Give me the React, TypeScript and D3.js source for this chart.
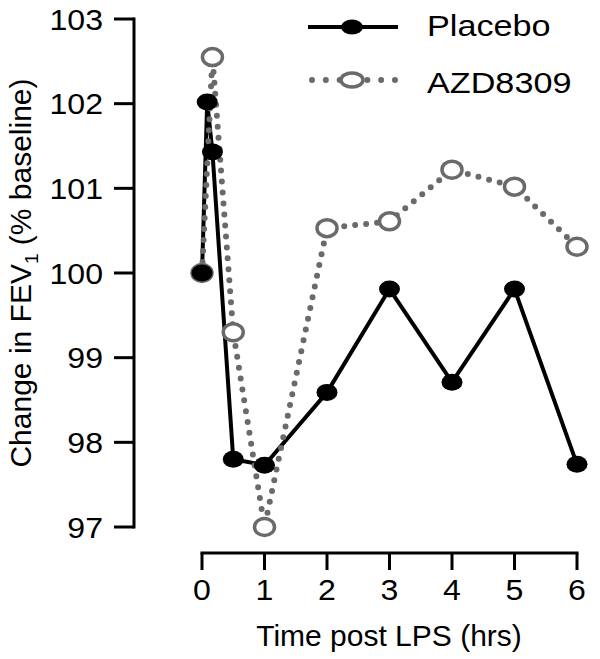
import React from "react";
import * as d3 from "d3";

const placeboTime = [0, 0.083, 0.167, 0.5, 1, 2, 3, 4, 5, 6];
const placeboValue = [100, 102.02, 101.43, 97.8, 97.73, 98.59, 99.81, 98.71, 99.81, 97.74];
const azdTime = [0, 0.167, 0.5, 1, 2, 3, 4, 5, 6];
const azdValue = [100, 102.55, 99.3, 97.0, 100.53, 100.61, 101.22, 101.02, 100.31];
const xTicks = [0, 1, 2, 3, 4, 5, 6];
const yTicks = [97, 98, 99, 100, 101, 102, 103];
const seriesNames = ["Placebo", "AZD8309"];

const W = 600;
const H = 659;
const FONT = "'Liberation Sans', Arial, sans-serif";
const GREY = "#6a6a6a";

export default function App() {
  const x = d3.scaleLinear().domain([0, 6]).range([202, 577]);
  const y = d3.scaleLinear().domain([97, 103]).range([527, 19]);
  const line = d3.line<[number, number]>().x((d) => x(d[0])).y((d) => y(d[1]));
  const placebo: [number, number][] = placeboTime.map((t, i) => [t, placeboValue[i]]);
  const azd: [number, number][] = azdTime.map((t, i) => [t, azdValue[i]]);
  const axisX = 134;
  const axisY = 553;

  return (
    <svg width={W} height={H} style={{ position: "absolute", left: 0, top: 0, background: "#fff" }} fontFamily={FONT}>
      {/* Y axis */}
      <line x1={axisX} x2={axisX} y1={y(103) - 1.5} y2={y(97) + 1.5} stroke="#000" strokeWidth={3} />
      {yTicks.map((t) => (
        <g key={t}>
          <line x1={axisX - 20} x2={axisX} y1={y(t)} y2={y(t)} stroke="#000" strokeWidth={3} />
          <text transform={`translate(103,${y(t) + 10.5}) scale(1.07,1)`} textAnchor="end" fontSize={30}>
            {t}
          </text>
        </g>
      ))}
      {/* X axis */}
      <line x1={x(0) - 1.5} x2={x(6) + 1.5} y1={axisY} y2={axisY} stroke="#000" strokeWidth={3} />
      {xTicks.map((t) => (
        <g key={t}>
          <line x1={x(t)} x2={x(t)} y1={axisY} y2={axisY + 17} stroke="#000" strokeWidth={3} />
          <text transform={`translate(${x(t)},600) scale(1.07,1)`} textAnchor="middle" fontSize={30}>
            {t}
          </text>
        </g>
      ))}
      <text x={389} y={646} textAnchor="middle" fontSize={30}>
        Time post LPS (hrs)
      </text>
      <text transform={`translate(31,${(y(97) + y(103)) / 2}) rotate(-90)`} textAnchor="middle" fontSize={30}>
        Change in FEV
        <tspan fontSize={19} dy={7}>1</tspan>
        <tspan dy={-7}> (% baseline)</tspan>
      </text>

      {/* Placebo line */}
      <path d={line(placebo) || ""} fill="none" stroke="#000" strokeWidth={4} strokeLinejoin="round" />
      {/* AZD line */}
      <path
        d={line(azd) || ""}
        fill="none"
        stroke={GREY}
        strokeWidth={6}
        strokeLinecap="round"
        strokeDasharray="0 11"
      />
      {azd.map((d, i) => (
        <ellipse key={"a" + i} cx={x(d[0])} cy={y(d[1])} rx={10} ry={8.5} fill="#fff" stroke={GREY} strokeWidth={3.5} />
      ))}
      {placebo.map((d, i) => (
        <ellipse key={"p" + i} cx={x(d[0])} cy={y(d[1])} rx={10.5} ry={8.5} fill="#000" />
      ))}

      {/* Legend */}
      <line x1={308} x2={398} y1={27} y2={27} stroke="#000" strokeWidth={4} />
      <ellipse cx={352} cy={27} rx={11} ry={7.5} fill="#000" />
      <text transform="translate(427,36) scale(1.14,1)" fontSize={30}>
        {seriesNames[0]}
      </text>
      <line
        x1={312}
        x2={395}
        y1={80}
        y2={80}
        stroke={GREY}
        strokeWidth={6}
        strokeLinecap="round"
        strokeDasharray="0 13.83"
      />
      <ellipse cx={352} cy={80} rx={11} ry={7} fill="#fff" stroke={GREY} strokeWidth={3.5} />
      <text transform="translate(427,93) scale(1.14,1)" fontSize={30}>
        {seriesNames[1]}
      </text>
    </svg>
  );
}
